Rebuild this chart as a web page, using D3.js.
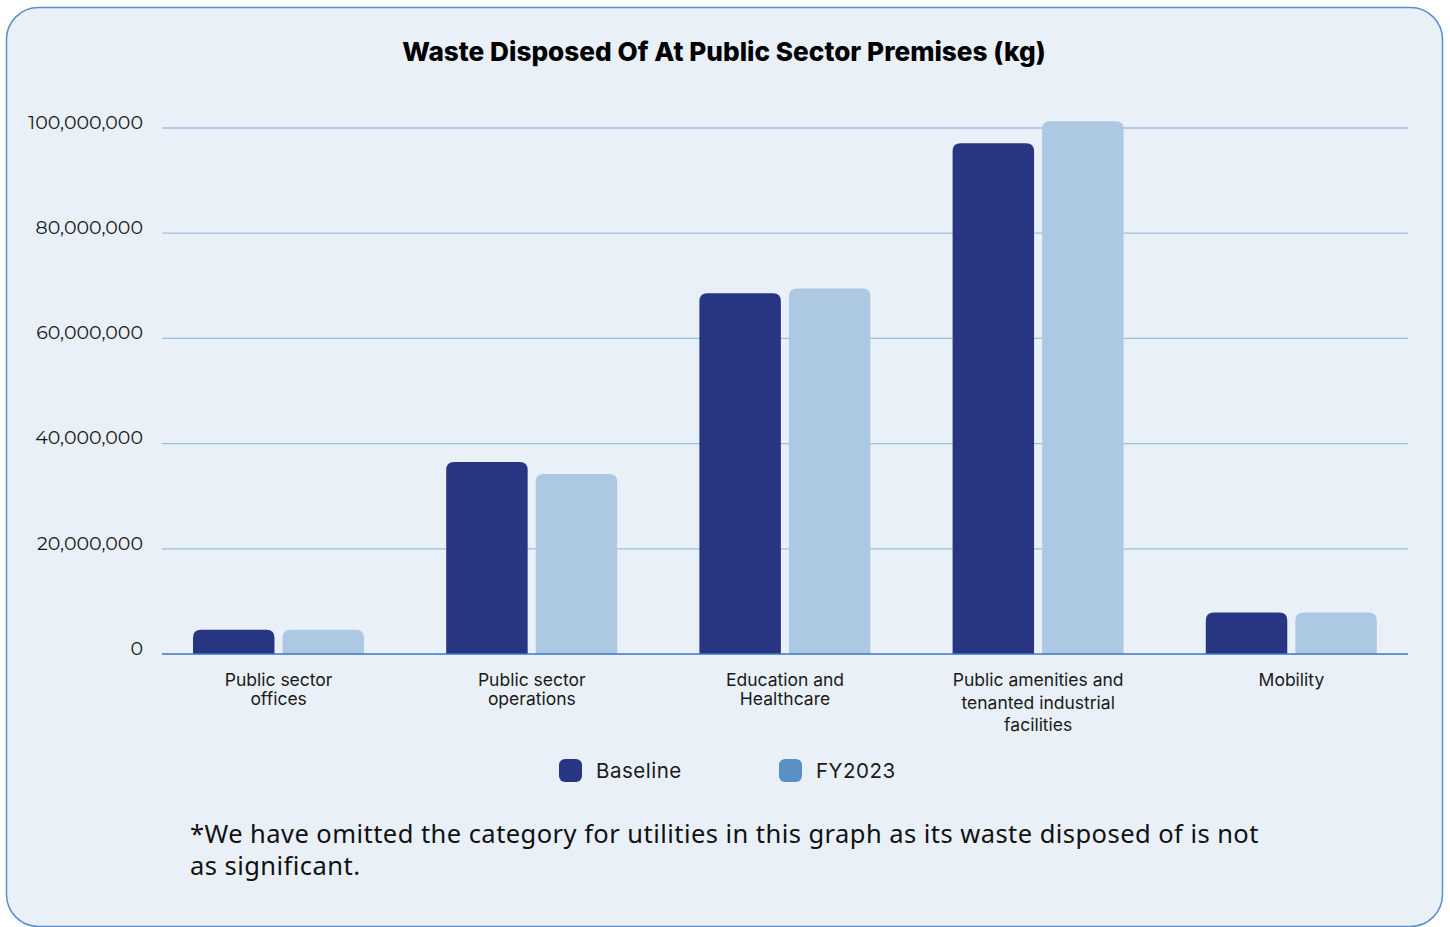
<!DOCTYPE html>
<html>
<head>
<meta charset="utf-8">
<script src="https://cdn.jsdelivr.net/npm/d3@7"></script>
<style>
  html, body { margin: 0; padding: 0; background: #ffffff; }
  svg { display: block; }
</style>
</head>
<body>
<svg id="chart" width="1450" height="927"></svg>
<script>
// Waste disposed of at public sector premises, kg
const categories = [
  ["Public sector", "offices"],
  ["Public sector", "operations"],
  ["Education and", "Healthcare"],
  ["Public amenities and", "tenanted industrial", "facilities"],
  ["Mobility"]
];
const seriesNames = ["Baseline", "FY2023"];
const baseline = [4.6e6, 36.5e6, 68.6e6, 97.1e6, 7.9e6];
const fy2023   = [4.6e6, 34.2e6, 69.5e6, 101.3e6, 7.9e6];
const yTicks = [0, 20e6, 40e6, 60e6, 80e6, 100e6];

const barColors = ["#283583", "#adc8e2"];
const legendColors = ["#283583", "#5a90c4"];

const svg = d3.select("#chart");

// card background
svg.append("rect")
  .attr("x", 6.5).attr("y", 7.5)
  .attr("width", 1436).attr("height", 919)
  .attr("rx", 32).attr("ry", 32)
  .attr("fill", "#e9f0f8")
  .attr("stroke", "#5b8fcb")
  .attr("stroke-width", 1.5);

// title
svg.append("text")
  .attr("x", 724).attr("y", 61)
  .attr("text-anchor", "middle")
  .attr("font-family", "Inter, Roboto, sans-serif")
  .attr("font-weight", 800)
  .attr("font-size", 26.2)
  .attr("fill", "#000")
  .text("Waste Disposed Of At Public Sector Premises (kg)");

const plot = { left: 162, right: 1408, top: 128, bottom: 654 };

const y = d3.scaleLinear().domain([0, 100e6]).range([plot.bottom, plot.top]);
const x0 = d3.scaleBand().domain(d3.range(categories.length)).range([152, 1418]).padding(0);
const x1 = d3.scaleBand().domain(seriesNames).range([41, 212]).paddingInner(0.09);

// gridlines
svg.append("g")
  .selectAll("line")
  .data(yTicks.filter(d => d > 0))
  .join("line")
  .attr("x1", plot.left).attr("x2", plot.right)
  .attr("y1", d => y(d)).attr("y2", d => y(d))
  .attr("stroke", "#9fbfe0")
  .attr("stroke-width", 1.3);

// y axis labels
const yAxis = d3.axisLeft(y).tickValues(yTicks).tickSize(0).tickPadding(0)
  .tickFormat(d3.format(","));
const gy = svg.append("g").attr("transform", "translate(143,0)").call(yAxis);
gy.select(".domain").remove();
gy.selectAll("text")
  .attr("font-family", "Montserrat, 'Open Sans', sans-serif")
  .attr("font-size", 19)
  .attr("fill", "#1a1a1a")
  .attr("dy", "0.02em");

// bars with rounded tops
function topRoundedBar(xp, w, yTop, yBot, r) {
  const h = yBot - yTop;
  r = Math.min(r, h, w / 2);
  return `M${xp},${yBot}V${yTop + r}Q${xp},${yTop} ${xp + r},${yTop}H${xp + w - r}Q${xp + w},${yTop} ${xp + w},${yTop + r}V${yBot}Z`;
}

const series = [baseline, fy2023];
const groups = svg.append("g").selectAll("g")
  .data(categories.map((c, i) => i))
  .join("g")
  .attr("transform", i => `translate(${x0(i)},0)`);

groups.selectAll("path")
  .data(i => seriesNames.map((s, k) => ({ s, k, v: series[k][i] })))
  .join("path")
  .attr("d", d => topRoundedBar(x1(d.s), x1.bandwidth(), y(d.v), y(0), 8))
  .attr("fill", d => barColors[d.k]);

// baseline axis line
svg.append("line")
  .attr("x1", plot.left).attr("x2", plot.right)
  .attr("y1", y(0)).attr("y2", y(0))
  .attr("stroke", "#3b79c2")
  .attr("stroke-width", 1.5);

// category labels
const lab = svg.append("g").selectAll("text")
  .data(categories)
  .join("text")
  .attr("text-anchor", "middle")
  .attr("font-family", "Inter, Roboto, sans-serif")
  .attr("font-size", 17.5)
  .attr("fill", "#1a1a1a")
  .attr("transform", (d, i) => `translate(${x0(i) + x0.bandwidth() / 2},686)`);
lab.selectAll("tspan")
  .data(d => d.map(t => ({ t, n: d.length })))
  .join("tspan")
  .attr("x", 0)
  .attr("y", (d, j) => j * (d.n > 2 ? 22.5 : 19))
  .text(d => d.t);

// legend
const legendX = [559, 779];
const lg = svg.append("g").selectAll("g")
  .data(seriesNames)
  .join("g")
  .attr("transform", (d, i) => `translate(${legendX[i]},759)`);
lg.append("rect")
  .attr("width", 23).attr("height", 23).attr("rx", 6)
  .attr("fill", (d, i) => legendColors[i]);
lg.append("text")
  .attr("x", 37).attr("y", 19)
  .attr("font-family", "Inter, Roboto, sans-serif")
  .attr("font-size", 20.5)
  .attr("letter-spacing", 0.5)
  .attr("fill", "#1a1a1a")
  .text(d => d);

// footnote
const note = svg.append("text")
  .attr("font-family", "'Noto Sans', 'Open Sans', sans-serif")
  .attr("font-size", 25.5)
  .attr("letter-spacing", 0.45)
  .attr("fill", "#111");
note.append("tspan").attr("x", 190).attr("y", 843)
  .text("*We have omitted the category for utilities in this graph as its waste disposed of is not");
note.append("tspan").attr("x", 190).attr("y", 875)
  .text("as significant.");
</script>
</body>
</html>
